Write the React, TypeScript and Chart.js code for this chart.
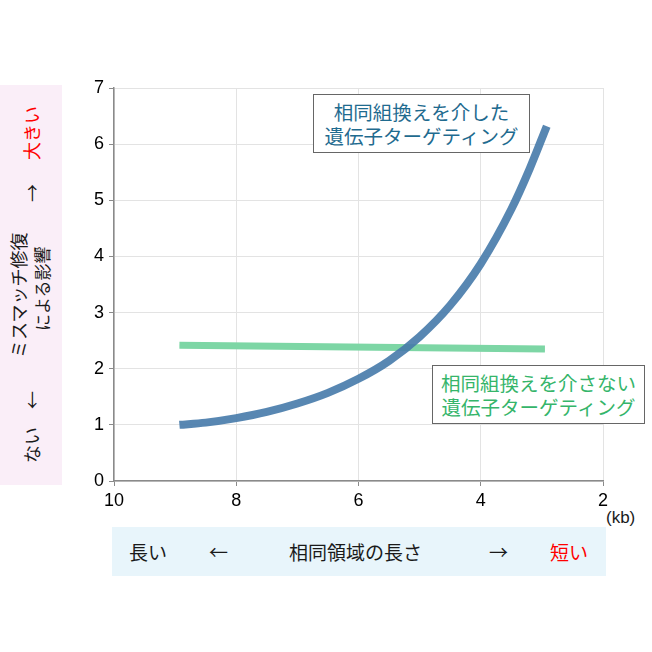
import React, { useEffect, useRef } from "react";
import { Chart, registerables } from "chart.js";

Chart.register(...registerables);

// Homology length (kb) and effect of mismatch repair
const withHRx = [8.93, 8.5, 8, 7.5, 7, 6.5, 6, 5.5, 5, 4.5, 4, 3.5, 3.2, 2.92];
const withHRy = [1.0, 1.04, 1.12, 1.23, 1.38, 1.57, 1.82, 2.14, 2.57, 3.13, 3.87, 4.84, 5.56, 6.32];
const withoutHRx = [8.93, 2.95];
const withoutHRy = [2.42, 2.35];
const xTicks = [10, 8, 6, 4, 2];
const yTicks = [0, 1, 2, 3, 4, 5, 6, 7];

const JP = "'Noto Sans CJK JP', 'Liberation Sans', Arial, sans-serif";

export default function App() {
  const ref = useRef<HTMLCanvasElement | null>(null);

  useEffect(() => {
    document.body.style.margin = "0";
    const ctx = ref.current!;
    const chart = new Chart(ctx, {
      type: "line",
      data: {
        datasets: [
          {
            label: "相同組換えを介した遺伝子ターゲティング",
            data: withHRx.map((x, i) => ({ x, y: withHRy[i] })),
            borderColor: "rgba(70,122,170,0.9)",
            borderWidth: 8,
            borderCapStyle: "butt",
            pointRadius: 0,
            cubicInterpolationMode: "monotone",
            fill: false,
            order: 0,
          },
          {
            label: "相同組換えを介さない遺伝子ターゲティング",
            data: withoutHRx.map((x, i) => ({ x, y: withoutHRy[i] })),
            borderColor: "rgb(125,214,165)",
            borderWidth: 7,
            borderCapStyle: "butt",
            pointRadius: 0,
            fill: false,
            order: 1,
          },
        ],
      },
      options: {
        animation: false,
        responsive: false,
        maintainAspectRatio: false,
        layout: { padding: { top: 88, right: 49, bottom: 0, left: 0 } },
        plugins: { legend: { display: false }, tooltip: { enabled: false } },
        scales: {
          x: {
            type: "linear",
            reverse: true,
            min: 2,
            max: 10,
            afterFit: (s: any) => {
              s.height = 171;
            },
            afterBuildTicks: (s: any) => {
              s.ticks = xTicks.map((v) => ({ value: v }));
            },
            ticks: {
              padding: 4,
              color: "#000",
              font: { family: "'Liberation Sans', Arial, sans-serif", size: 18 },
              maxRotation: 0,
            },
            grid: { color: "#e3e3e3", tickLength: 5, tickColor: "#8a8a8a" },
            border: { color: "#8a8a8a", width: 1.5 },
          },
          y: {
            min: 0,
            max: 7,
            afterFit: (s: any) => {
              s.width = 114;
            },
            afterBuildTicks: (s: any) => {
              s.ticks = yTicks.map((v) => ({ value: v }));
            },
            ticks: {
              padding: 5,
              color: "#000",
              font: { family: "'Liberation Sans', Arial, sans-serif", size: 18 },
            },
            grid: { color: "#e3e3e3", tickLength: 5, tickColor: "#8a8a8a" },
            border: { color: "#8a8a8a", width: 1.5 },
          },
        },
      },
    } as any);
    return () => chart.destroy();
  }, []);

  const abs = (s: React.CSSProperties): React.CSSProperties => ({ position: "absolute", ...s });

  return (
    <div style={{ position: "relative", width: 652, height: 652, background: "#fff", fontFamily: JP }}>
      {/* y-axis title (rotated) */}
      <div
        style={abs({
          left: -169,
          top: 254,
          width: 400,
          height: 62,
          background: "#faeef8",
          transform: "rotate(-90deg)",
          transformOrigin: "center",
          fontSize: 18,
          lineHeight: "18px",
          color: "#1a1a1a",
          whiteSpace: "nowrap",
        })}
      >
        <span style={abs({ left: 22, top: 22 })}>ない</span>
        <span style={abs({ left: 76, top: 22 })}>←</span>
        <span style={abs({ left: 127, top: 9 })}>ミスマッチ修復</span>
        <span style={abs({ left: 154, top: 33, fontSize: 17 })}>による影響</span>
        <span style={abs({ left: 283, top: 22 })}>→</span>
        <span style={abs({ left: 325, top: 22, color: "#ff0000" })}>大きい</span>
      </div>

      {/* x-axis title */}
      <div
        style={abs({
          left: 112,
          top: 527,
          width: 494,
          height: 49,
          background: "#e8f5fb",
          fontSize: 19,
          lineHeight: "19px",
          color: "#1a1a1a",
          whiteSpace: "nowrap",
        })}
      >
        <span style={abs({ left: 17, top: 15 })}>長い</span>
        <span style={abs({ left: 97, top: 15 })}>←</span>
        <span style={abs({ left: 177, top: 15 })}>相同領域の長さ</span>
        <span style={abs({ left: 377, top: 15 })}>→</span>
        <span style={abs({ left: 438, top: 15, color: "#ff0000" })}>短い</span>
      </div>
      <span
        style={abs({
          left: 606,
          top: 509,
          fontSize: 17,
          lineHeight: "17px",
          fontFamily: "'Liberation Sans', Arial, sans-serif",
          color: "#1a1a1a",
        })}
      >
        (kb)
      </span>

      <canvas ref={ref} width={652} height={652} style={abs({ left: 0, top: 0, width: 652, height: 652 })} />

      {/* annotation boxes */}
      <div
        style={abs({
          left: 313,
          top: 94,
          width: 217,
          height: 59,
          boxSizing: "border-box",
          border: "1.5px solid #666",
          background: "#fff",
          color: "#1f6b8f",
          fontSize: 19.5,
          lineHeight: "24px",
          textAlign: "center",
          paddingTop: 5,
          whiteSpace: "nowrap",
        })}
      >
        相同組換えを介した
        <br />
        遺伝子ターゲティング
      </div>
      <div
        style={abs({
          left: 432,
          top: 365,
          width: 213,
          height: 59,
          boxSizing: "border-box",
          border: "1.5px solid #666",
          background: "#fff",
          color: "#35b56a",
          fontSize: 19.5,
          lineHeight: "24px",
          textAlign: "center",
          paddingTop: 5,
          whiteSpace: "nowrap",
        })}
      >
        相同組換えを介さない
        <br />
        遺伝子ターゲティング
      </div>
    </div>
  );
}
